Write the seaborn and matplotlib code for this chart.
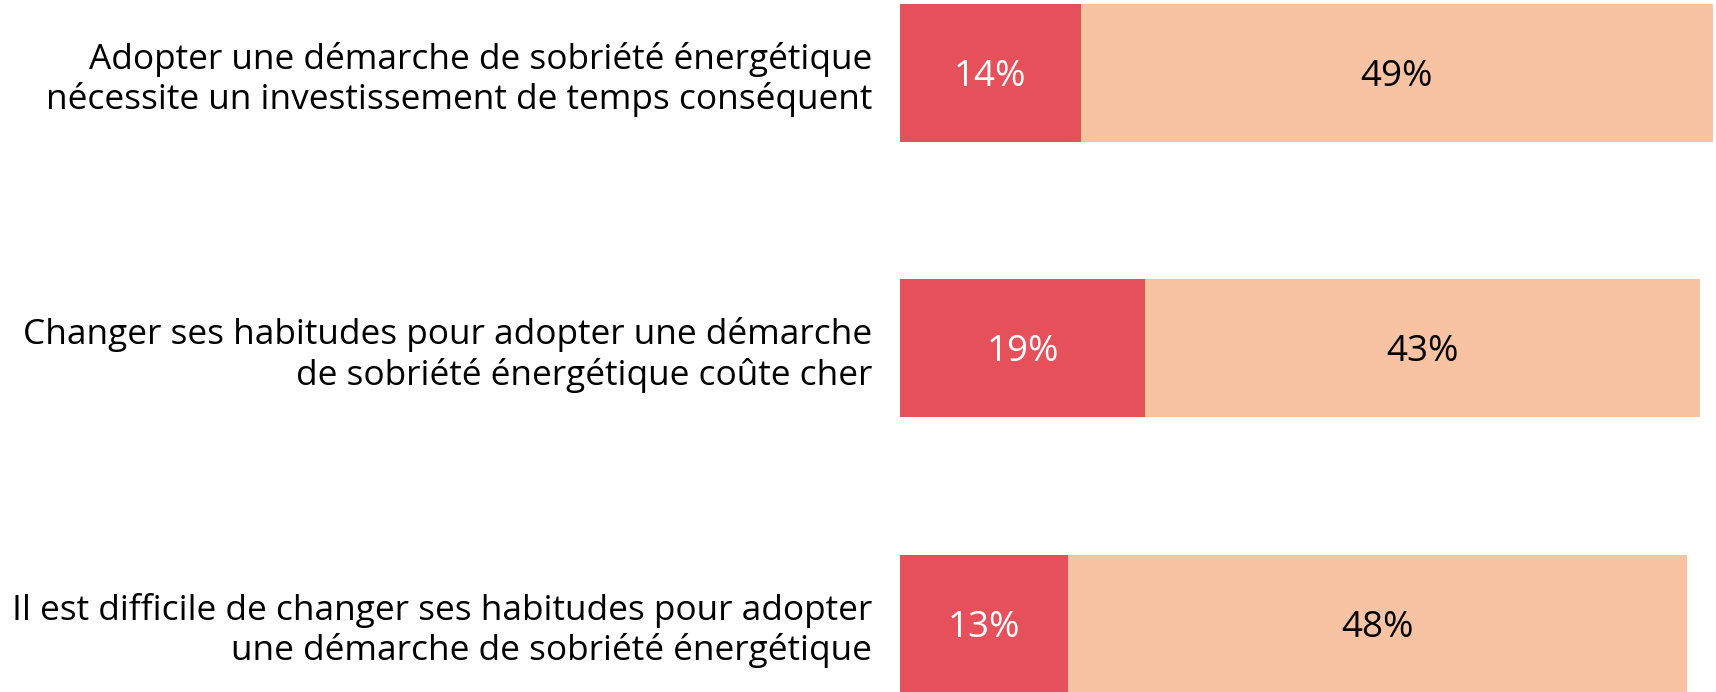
import numpy as np
import pandas as pd
import matplotlib
matplotlib.use("Agg")
import matplotlib.pyplot as plt
import seaborn as sns

# data
statements = [
    "Adopter une démarche de sobriété énergétique\nnécessite un investissement de temps conséquent",
    "Changer ses habitudes pour adopter une démarche\nde sobriété énergétique coûte cher",
    "Il est difficile de changer ses habitudes pour adopter\nune démarche de sobriété énergétique",
]
tout_a_fait = [14, 19, 13]
plutot = [49, 43, 48]

red = "#E5505A"
peach = "#F7C3A2"

sns.set_theme(style="white")
plt.rcParams['font.family'] = ['Open Sans', 'DejaVu Sans']

df = pd.DataFrame({
    "statement": statements,
    "first": tout_a_fait,
    "second": plutot,
})
df["total"] = df["first"] + df["second"]

fig = plt.figure(figsize=(17.16, 6.92), dpi=100)
ax = fig.add_axes([900 / 1716, 0, 816 / 1716, 1])

# stacked: draw total first, then the first segment on top
sns.barplot(data=df, y="statement", x="total", color=peach, orient="h",
            width=0.5, ax=ax, saturation=1, linewidth=0)
sns.barplot(data=df, y="statement", x="first", color=red, orient="h",
            width=0.5, ax=ax, saturation=1, linewidth=0)

for i, (a, b) in enumerate(zip(tout_a_fait, plutot)):
    ax.text(a / 2, i + 0.015, f"{a}%", ha="center", va="center", color="white", fontsize=26.5)
    ax.text(a + b / 2, i + 0.015, f"{b}%", ha="center", va="center", color="black", fontsize=26.5)

ax.set_xlim(0, 816 / 12.9)
ax.set_ylim(2.248, -0.264)
ax.set_xlabel("")
ax.set_ylabel("")
ax.set_xticks([])
ax.tick_params(axis="y", length=0, pad=20, labelsize=25.4, labelcolor="black")
for lbl in ax.get_yticklabels():
    lbl.set_multialignment("right")
sns.despine(ax=ax, left=True, bottom=True)

fig.savefig("out.png", dpi=100)
